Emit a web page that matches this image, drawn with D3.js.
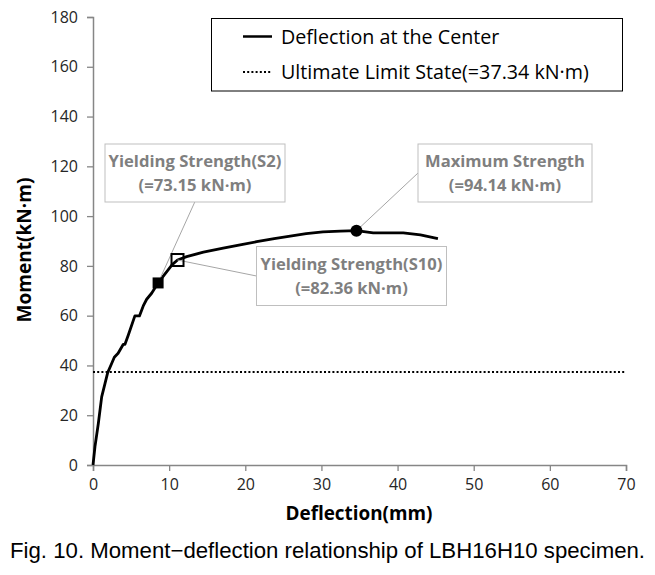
<!DOCTYPE html>
<html><head><meta charset="utf-8">
<script src="https://cdn.jsdelivr.net/npm/d3@7"></script>
<style>body{margin:0;background:#fff}svg{display:block}</style>
</head><body>
<script>
const deflection = [0,0.26,0.7,1.14,1.58,1.93,2.45,2.8,3.3,3.98,4.2,4.64,5.5,6.1,6.6,7.05,7.7,8.55,10.4,11.1,12.3,14.5,17.1,19.5,21.5,23.8,25.9,28,30.2,32.5,34.6,36.8,40.75,43,45.3];
const moment     = [0,7.4,16.7,27.4,32.8,37.1,40.8,43.3,44.9,48.5,48.5,52.2,59.9,59.9,63.9,66.6,69,73.15,80.5,82.36,83.7,85.5,87.1,88.5,89.7,91,92,93,93.7,94,94.14,93.3,93.3,92.5,91];
const xTicks = [0,10,20,30,40,50,60,70];
const yTicks = [0,20,40,60,80,100,120,140,160,180];
const ultimateLimit = 37.34;
const keyPoints = [
  {name:"Yielding Strength(S2)", label:"(=73.15 kN·m)", x:8.55, y:73.15, type:"filled"},
  {name:"Yielding Strength(S10)", label:"(=82.36 kN·m)", x:11.1, y:82.36, type:"open"},
  {name:"Maximum Strength", label:"(=94.14 kN·m)", x:34.6, y:94.14, type:"circle"}
];
const legendLabels = ["Deflection at the Center","Ultimate Limit State(=37.34 kN·m)"];
const caption = "Fig. 10. Moment\u2212deflection relationship of LBH16H10 specimen.";

const W=655,H=575;
const m={left:93,top:17,right:29,bottom:110};
const svg=d3.select("body").append("svg").attr("width",W).attr("height",H);
const x=d3.scaleLinear().domain([0,70]).range([m.left,W-m.right]);
const y=d3.scaleLinear().domain([0,180]).range([H-m.bottom,m.top]);
const font="'Open Sans', sans-serif";
const axisCol="#868686";

function fit(sel,target){
  const w=sel.node().getComputedTextLength();
  const s=+sel.attr("font-size");
  const ns=s*target/w;
  sel.attr("font-size",ns);
  return ns;
}

// axes
const xa=svg.append("g").attr("transform",`translate(0,${y(0)})`)
  .call(d3.axisBottom(x).tickValues(xTicks).tickSize(6).tickPadding(8));
const ya=svg.append("g").attr("transform",`translate(${x(0)},0)`)
  .call(d3.axisLeft(y).tickValues(yTicks).tickSize(6).tickPadding(9));
[xa,ya].forEach(a=>{
  a.select(".domain").attr("stroke",axisCol).attr("stroke-width",1.5);
  a.selectAll(".tick line").attr("stroke",axisCol).attr("stroke-width",1.3);
  a.selectAll("text").attr("font-family",font).attr("font-size",16).attr("fill","#262626");
});
const t180=ya.selectAll(".tick text").filter(d=>d===180);
const tickSize=fit(t180,27.5);
xa.selectAll("text").attr("font-size",tickSize);
ya.selectAll("text").attr("font-size",tickSize);

// axis titles
const xt=svg.append("text").attr("x",359).attr("y",520).attr("text-anchor","middle")
  .attr("font-family",font).attr("font-weight","bold").attr("font-size",17).text("Deflection(mm)");
fit(xt,147);
const yt=svg.append("text").attr("transform",`translate(31,250) rotate(-90)`).attr("text-anchor","middle")
  .attr("font-family",font).attr("font-weight","bold").attr("font-size",17).text("Moment(kN·m)");
fit(yt,145);

// ultimate limit line
svg.append("line").attr("x1",x(0)).attr("x2",x(70)).attr("y1",y(ultimateLimit)).attr("y2",y(ultimateLimit))
  .attr("stroke","#000").attr("stroke-width",2).attr("stroke-dasharray","2,2.2");

// curve
const pts=deflection.map((d,i)=>[d,moment[i]]);
svg.append("path").datum(pts).attr("fill","none").attr("stroke","#000").attr("stroke-width",2.8)
  .attr("stroke-linejoin","round")
  .attr("d",d3.line().x(d=>x(d[0])).y(d=>y(d[1])));

// annotation boxes
const boxes=[
  {x0:105,y0:144,w:180,h:58,ax:195,ay:201.5,w1:173},
  {x0:256.5,y0:246.5,w:190,h:59,ax:256.5,ay:276,w1:182},
  {x0:418,y0:144,w:174,h:58,ax:418,ay:173,w1:160}
];
keyPoints.forEach((k,i)=>{
  const b=boxes[i];
  svg.append("line").attr("x1",b.ax).attr("y1",b.ay).attr("x2",x(k.x)).attr("y2",y(k.y))
    .attr("stroke","#a6a6a6").attr("stroke-width",1);
  svg.append("rect").attr("x",b.x0).attr("y",b.y0).attr("width",b.w).attr("height",b.h)
    .attr("fill","#fff").attr("stroke","#bfbfbf").attr("stroke-width",1);
  const t1=svg.append("text").attr("x",b.x0+b.w/2).attr("y",b.y0+23).attr("text-anchor","middle")
    .attr("font-family",font).attr("font-weight","bold").attr("font-size",16).attr("fill","#7f7f7f").text(k.name);
  const s=fit(t1,b.w1);
  svg.append("text").attr("x",b.x0+b.w/2).attr("y",b.y0+47).attr("text-anchor","middle")
    .attr("font-family",font).attr("font-weight","bold").attr("font-size",s).attr("fill","#7f7f7f").text(k.label);
});

// markers
keyPoints.forEach(k=>{
  const cx=x(k.x),cy=y(k.y);
  if(k.type==="filled") svg.append("rect").attr("x",cx-5.5).attr("y",cy-5.5).attr("width",11).attr("height",11).attr("fill","#000");
  else if(k.type==="open") svg.append("rect").attr("x",cx-6).attr("y",cy-6).attr("width",12).attr("height",12).attr("fill","none").attr("stroke","#000").attr("stroke-width",2);
  else svg.append("circle").attr("cx",cx).attr("cy",cy).attr("r",6).attr("fill","#000");
});

// legend
const lg=svg.append("g");
lg.append("rect").attr("x",211.5).attr("y",18.5).attr("width",411).attr("height",72.5)
  .attr("fill","#fff").attr("stroke","#000").attr("stroke-width",1);
lg.append("line").attr("x1",243).attr("x2",272).attr("y1",36.5).attr("y2",36.5).attr("stroke","#000").attr("stroke-width",2.5);
lg.append("line").attr("x1",243).attr("x2",272).attr("y1",72).attr("y2",72).attr("stroke","#000").attr("stroke-width",2).attr("stroke-dasharray","2,2.2");
const lt2=lg.append("text").attr("x",281).attr("y",79).attr("font-family",font).attr("font-size",18).attr("fill","#000").text(legendLabels[1]);
const ls=fit(lt2,308);
lg.append("text").attr("x",281).attr("y",43.5).attr("font-family",font).attr("font-size",ls).attr("fill","#000").text(legendLabels[0]);

// caption
svg.append("text").attr("x",10).attr("y",558).attr("font-family","'Liberation Sans', Arial, sans-serif")
  .attr("font-size",22).attr("textLength",635).attr("lengthAdjust","spacingAndGlyphs").attr("fill","#000").text(caption);
</script>
</body></html>
